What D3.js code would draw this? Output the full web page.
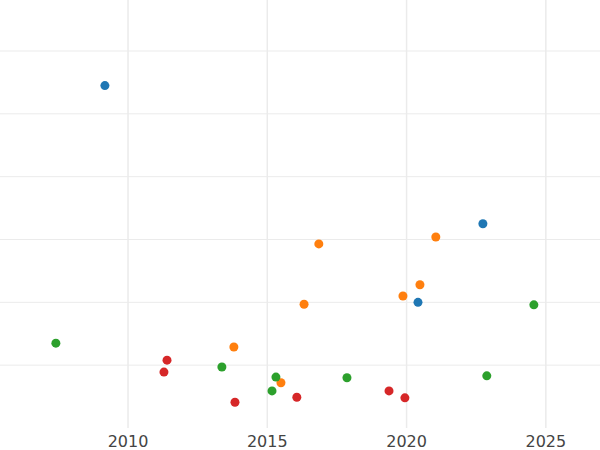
<!DOCTYPE html><html><head><script src="https://cdn.jsdelivr.net/npm/d3@7"></script>
<style>body{margin:0}</style></head><body><svg id="c" width="600" height="450"></svg>
<script>
const blueX=[2009.17,2022.74,2020.41], blueY=[5.45,3.25,2.0];
const orangeX=[2016.85,2021.05,2020.48,2019.87,2016.32,2013.80,2015.49], orangeY=[2.93,3.04,2.28,2.10,1.97,1.29,0.72];
const greenX=[2007.41,2013.37,2015.31,2015.17,2017.86,2022.88,2024.57], greenY=[1.35,0.97,0.81,0.59,0.80,0.83,1.96];
const redX=[2011.40,2011.29,2013.84,2016.06,2019.37,2019.94], redY=[1.08,0.89,0.41,0.49,0.59,0.48];
const xTicks=[2010,2015,2020,2025], yTicks=[1,2,3,4,5,6];
const series=[[blueX,blueY,"#1f77b4"],[orangeX,orangeY,"#ff7f0e"],[greenX,greenY,"#2ca02c"],[redX,redY,"#d62728"]];
const svg=d3.select("#c");
const x=d3.scaleLinear().domain([2005.44,2026.98]).range([1,601]);
const y=d3.scaleLinear().domain([0,6]).range([428,51]);
svg.append("g").selectAll("line").data(yTicks).join("line").attr("x1",0).attr("x2",600)
 .attr("y1",d=>y(d)).attr("y2",d=>y(d)).attr("stroke","#ebebeb").attr("stroke-width",1);
svg.append("g").selectAll("line").data(xTicks).join("line").attr("y1",0).attr("y2",428)
 .attr("x1",d=>x(d)).attr("x2",d=>x(d)).attr("stroke","#ebebeb").attr("stroke-width",1.5);
svg.append("g").selectAll("text").data(xTicks).join("text").attr("x",d=>x(d)).attr("y",447)
 .attr("text-anchor","middle").attr("font-family","DejaVu Sans").attr("font-size",16).attr("fill","#444").text(d=>d);
series.forEach(([xs,ys,c])=>{
 svg.append("g").selectAll("circle").data(xs).join("circle").attr("cx",d=>x(d)).attr("cy",(d,i)=>y(ys[i]))
  .attr("r",4.5).attr("fill",c);
});
</script></body></html>
